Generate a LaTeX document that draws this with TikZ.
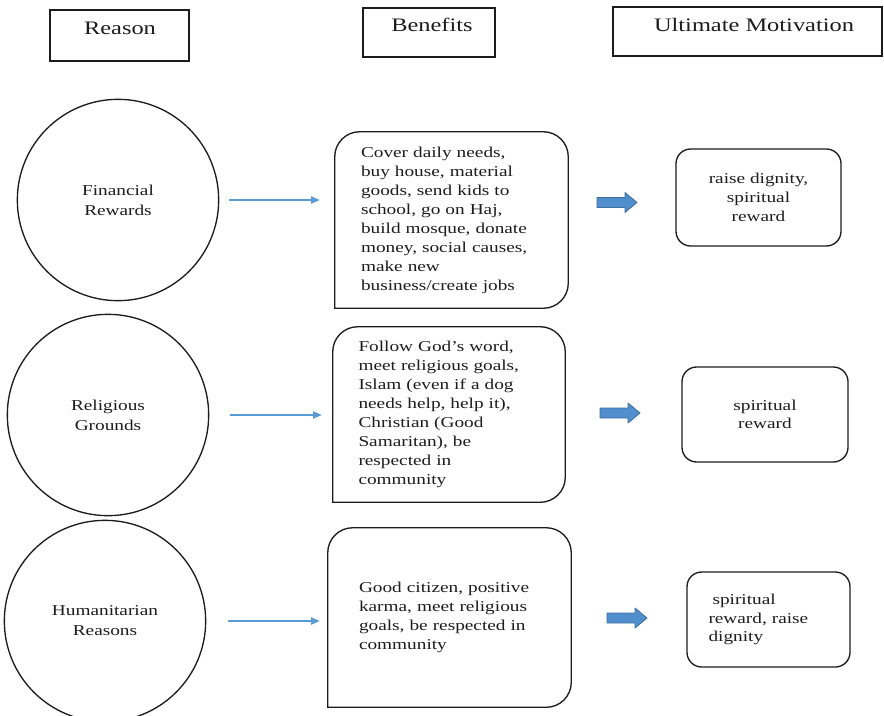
\documentclass[tikz,border=0pt]{standalone}
\usepackage{fontspec}
\setmainfont{Liberation Serif}[FakeStretch=1.28]
\usetikzlibrary{arrows.meta}

\definecolor{ink}{RGB}{28,28,28}
\definecolor{linkblue}{RGB}{91,155,213}
\definecolor{arrowfill}{RGB}{80,142,206}
\definecolor{arrowline}{RGB}{62,110,155}

\begin{document}
\begin{tikzpicture}[x=0.75pt,y=-0.75pt,
  hdrbox/.style={draw=ink, line width=1.2pt, rectangle, inner sep=0pt},
  hdrtext/.style={text=ink, font=\fontsize{14.3}{17}\selectfont, anchor=base, inner sep=0pt},
  reason/.style={draw=ink, line width=1pt, circle, minimum size=151pt, inner sep=0pt, align=center, text=ink, font=\fontsize{11.3}{15}\selectfont},
  benefit/.style={rectangle, inner sep=0pt, align=left, text width=135.75pt, text=ink, font=\fontsize{11.3}{14.25}\selectfont},
  benefitline/.style={draw=ink, line width=1pt},
  motive/.style={draw=ink, line width=1pt, rectangle, rounded corners=11pt, inner sep=0pt, align=center, text=ink, font=\fontsize{11.3}{14}\selectfont},
  link/.style={draw=linkblue, line width=0.8pt, -{Triangle[length=6.5pt,width=5.5pt]}},
  bigarrow/.style={draw=arrowline, fill=arrowfill, line width=0.6pt, line join=round}]

\useasboundingbox (0,0) rectangle (884,715);

%Header boxes
\node[hdrbox, minimum width=104.25pt, minimum height=38.25pt] (hreason) at (119.5,35.5) {};
\node[hdrbox, minimum width=99pt, minimum height=36.75pt] (hbenefit) at (429,32.5) {};
\node[hdrbox, minimum width=201.75pt, minimum height=36.75pt] (hmotive) at (747.5,31.5) {};
% Text Node
\node[hdrtext] (treason) at (120,34) {Reason};
\node[hdrtext] (tbenefit) at (432,31) {Benefits};
\node[hdrtext] (tmotive) at (754,31) {Ultimate Motivation};

%Shape: Circle
\node[reason] (cfin) at (118,200) {Financial\\Rewards};
\node[reason] (crel) at (108,415) {Religious\\Grounds};
\node[reason] (chum) at (105,621) {Humanitarian\\Reasons};

%Benefit boxes (round top)
\node[benefit, minimum width=174.75pt, minimum height=132pt] (b1) at (451.5,220) {Cover daily needs,\\
buy house, material\\
goods, send kids to\\
school, go on Haj,\\
build mosque, donate\\
money, social causes,\\
make new\\
business/create jobs};
\node[benefit, minimum width=174pt, minimum height=131.25pt] (b2) at (449,414.5) {Follow God’s word,\\
meet religious goals,\\
Islam (even if a dog\\
needs help, help it),\\
Christian (Good\\
Samaritan), be\\
respected in\\
community};
\node[benefit, minimum width=182.25pt, minimum height=134.25pt] (b3) at (449.5,617.5) {Good citizen, positive\\
karma, meet religious\\
goals, be respected in\\
community};
\draw[benefitline] (b1.south west) [rounded corners=18.75pt] |- (b1.north) -| (b1.south east) [sharp corners] -- cycle;
\draw[benefitline] (b2.south west) [rounded corners=18.75pt] |- (b2.north) -| (b2.south east) [sharp corners] -- cycle;
\draw[benefitline] (b3.south west) [rounded corners=18.75pt] |- (b3.north) -| (b3.south east) [sharp corners] -- cycle;

%Motivation boxes
\node[motive, minimum width=123.75pt, minimum height=72.75pt] (m1) at (758.5,197.5) {raise dignity,\\spiritual\\reward};
\node[motive, minimum width=124.5pt, minimum height=71.25pt] (m2) at (765,414.5) {spiritual\\reward};
\node[motive, minimum width=122.25pt, minimum height=71.25pt, align=left, text width=90pt] (m3) at (768.5,619.5) {\hspace*{3pt}spiritual\\reward, raise\\dignity};

%Straight Lines
\draw[link, shorten <=7.5pt, shorten >=11.25pt] (cfin.east) -- (cfin.east -| b1.west);
\draw[link, shorten <=15.75pt, shorten >=8.25pt] (crel.east) -- (crel.east -| b2.west);
\draw[link, shorten <=16.5pt, shorten >=6pt] (chum.east) -- (chum.east -| b3.west);

%Right Arrows
\coordinate (ar1) at (597,202.5);
\coordinate (ar2) at (600,413);
\coordinate (ar3) at (607,618);
\draw[bigarrow] (ar1) ++(0,-5) -- ++(28,0) -- ++(0,-5) -- ++(12,10) -- ++(-12,10) -- ++(0,-5) -- ++(-28,0) -- cycle;
\draw[bigarrow] (ar2) ++(0,-5) -- ++(28,0) -- ++(0,-5) -- ++(12,10) -- ++(-12,10) -- ++(0,-5) -- ++(-28,0) -- cycle;
\draw[bigarrow] (ar3) ++(0,-5) -- ++(28,0) -- ++(0,-5) -- ++(12,10) -- ++(-12,10) -- ++(0,-5) -- ++(-28,0) -- cycle;

\end{tikzpicture}
\end{document}
